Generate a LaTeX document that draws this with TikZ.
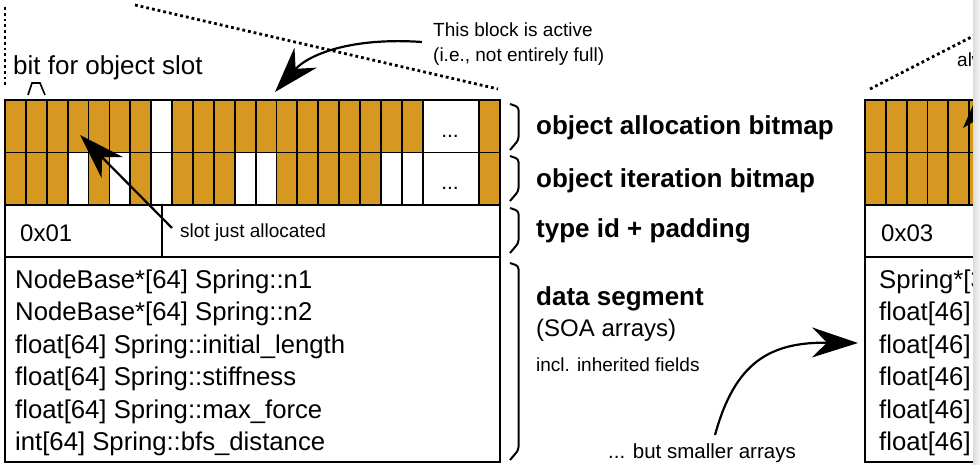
\documentclass[tikz,border=0pt]{standalone}
\usepackage{fontspec}
\setmainfont{Liberation Sans}
\usetikzlibrary{arrows.meta}

\definecolor{bitfill}{RGB}{215,152,33}

% font sizes
\newcommand\fsdata{\fontsize{25.7}{30}\selectfont}
\newcommand\fshead{\bfseries\fontsize{26}{30}\selectfont}
\newcommand\fsmid{\fontsize{24}{28}\selectfont}
\newcommand\fsnote{\fontsize{19}{23}\selectfont}

% square-cornered brace on the right of a segment, from y=#1 to y=#2
\newcommand\segbrace[2]{%
  \draw[bracestroke] (510,#1) -- (518.5,#1+3) -- (518.5,#2-10) -- (510,#2);}

\tikzset{
  cellb/.style={draw=black, line width=1.8pt, fill=bitfill},
  cellf/.style={draw=black, line width=1.8pt, fill=white},
  frame/.style={draw=black, line width=2.2pt},
  thin rule/.style={draw=black, line width=1.8pt},
  zoomline/.style={line width=2.8pt, dash pattern=on 2.8pt off 3pt},
  callout/.style={line width=2.2pt, -{Stealth[length=46pt,width=30pt,inset=15pt]}},
  bracestroke/.style={line width=2pt, rounded corners=3pt},
  lbl/.style={inner sep=0pt, anchor=base west},
  dots/.style={inner sep=0pt, anchor=base, font=\fontsize{21}{24}\selectfont},
}

\begin{document}
\begin{tikzpicture}[x=1pt, y=-1pt]
\useasboundingbox (0,0) rectangle (980,465);

% ---------- dotted lines leading up to the enclosing structure ----------
\draw[zoomline] (5,7) -- (5,87);
\draw[zoomline] (135,5) -- (498,89);

% ---------- left block: allocation bitmap (row 1) ----------
\foreach \c [count=\i from 0] in {b,b,b,b,b,b,b,f,b,b,b,b,b,b,b,b,b,b,b,b} {
  \pgfmathsetmacro\xa{5+\i*20.885}
  \pgfmathsetmacro\xb{5+(\i+1)*20.885}
  \draw[cell\c] (\xa,100) rectangle (\xb,152.5);
}
% iteration bitmap (row 2)
\foreach \c [count=\i from 0] in {b,b,b,f,b,f,b,f,b,b,b,f,f,b,b,b,b,b,f,f} {
  \pgfmathsetmacro\xa{5+\i*20.885}
  \pgfmathsetmacro\xb{5+(\i+1)*20.885}
  \draw[cell\c] (\xa,152.5) rectangle (\xb,205);
}
\draw[cellf] (422.7,100) rectangle (479.3,152.5);
\draw[cellf] (422.7,152.5) rectangle (479.3,205);
\draw[cellb] (479.3,100) rectangle (500,152.5);
\draw[cellb] (479.3,152.5) rectangle (500,205);
\node[dots] (dotsA) at (450,137.5) {...};
\node[dots] (dotsB) at (450,190) {...};

% type id row and data segment
\draw[thin rule] (5,205) -- (500,205);
\draw[thin rule] (5,257) -- (500,257);
\draw[thin rule] (162,205) -- (162,257);
\draw[frame] (5,100) rectangle (500,462);

\node[lbl, font=\fsmid] (tidA) at (20,241) {0x01};
\node[lbl, font=\fsnote] (slot) at (180,237) {slot just allocated};

\node[lbl, font=\fsdata] (dA1) at (15,288)   {NodeBase*[64] Spring::n1};
\node[lbl, font=\fsdata] (dA2) at (15,320.5) {NodeBase*[64] Spring::n2};
\node[lbl, font=\fsdata] (dA3) at (15,353) {float[64] Spring::initial\_length};
\node[lbl, font=\fsdata] (dA4) at (15,385.5) {float[64] Spring::stiffness};
\node[lbl, font=\fsdata] (dA5) at (15,418) {float[64] Spring::max\_force};
\node[lbl, font=\fsdata] (dA6) at (15,450.5)   {int[64] Spring::bfs\_distance};

% ---------- annotations above ----------
\node[lbl, font=\fontsize{26}{30}\selectfont] (bitslot) at (13,75) {bit for object slot};
\draw[line width=1.6pt] (28,95) -- (32,83) -- (40,83) -- (45,95);

\node[lbl, font=\fsnote] (active1) at (433,37) {This block is active};
\node[lbl, font=\fsnote] (active2) at (433,62) {(i.e., not entirely full)};

\coordinate (activeTail) at (422,42);
\coordinate (activeTip) at (275,92);
\draw[callout] (activeTail) .. controls (350,37) and (308,55) .. (activeTip);

\coordinate (slotTail) at (172,228);
\coordinate (slotTip) at (80,135);
\draw[callout] (slotTail) -- (slotTip);

% ---------- braces and segment names ----------
\segbrace{104}{150}
\segbrace{156}{201}
\segbrace{208}{253}
\segbrace{263}{460}

\node[lbl, font=\fshead] (hAlloc) at (536,135) {object allocation bitmap};
\node[lbl, font=\fshead] (hIter)  at (536,187.5) {object iteration bitmap};
\node[lbl, font=\fshead] (hType)  at (536,238) {type id + padding};
\node[lbl, font=\fshead] (hData)  at (536,305) {data segment};
\node[lbl, font=\fsmid]  (hSoa)   at (536,336) {(SOA arrays)};
\node[lbl, font=\fsnote] (hInh)   at (536,371) {incl. inherited fields};

\node[lbl, font=\fontsize{20.5}{24}\selectfont] (smaller) at (608,458) {... but smaller arrays};
\coordinate (smallTail) at (715,435);
\coordinate (smallTip) at (858,343);
\draw[callout] (smallTail) .. controls (735,362) and (770,342) .. (smallTip);

% ---------- right block (cut off at the page edge) ----------
\begin{scope}
  \clip (0,0) rectangle (974,465);
  \draw[zoomline] (870,89) -- (985,30);
  \node[lbl, font=\fsnote] (always) at (957,67) {alw};
  \foreach \i in {0,...,5} {
    \pgfmathsetmacro\xa{865+\i*20.8}
    \pgfmathsetmacro\xb{865+(\i+1)*20.8}
    \draw[cellb] (\xa,100) rectangle (\xb,152.5);
    \draw[cellb] (\xa,152.5) rectangle (\xb,205);
  }
  \draw[thin rule] (865,205) -- (990,205);
  \draw[thin rule] (865,257) -- (990,257);
  \draw[frame] (990,100) -- (865,100) -- (865,462) -- (990,462);
  \node[lbl, font=\fsmid] (tidB) at (881,241) {0x03};
  \node[lbl, font=\fsdata] (dB1) at (879,288)   {Spring*[3};
  \node[lbl, font=\fsdata] (dB2) at (879,320.5) {float[46]};
  \node[lbl, font=\fsdata] (dB3) at (879,353) {float[46]};
  \node[lbl, font=\fsdata] (dB4) at (879,385.5) {float[46]};
  \node[lbl, font=\fsdata] (dB5) at (879,418) {float[46]};
  \node[lbl, font=\fsdata] (dB6) at (879,450.5)   {float[46]};
  \coordinate (fullTail) at (1110,78);
  \coordinate (fullTip) at (963,128);
  \draw[callout] (fullTail) .. controls (1038,73) and (996,91) .. (fullTip);
\end{scope}
\shade[left color=black!14, right color=black!3] (973,0) rectangle (980,465);
\end{tikzpicture}
\end{document}
